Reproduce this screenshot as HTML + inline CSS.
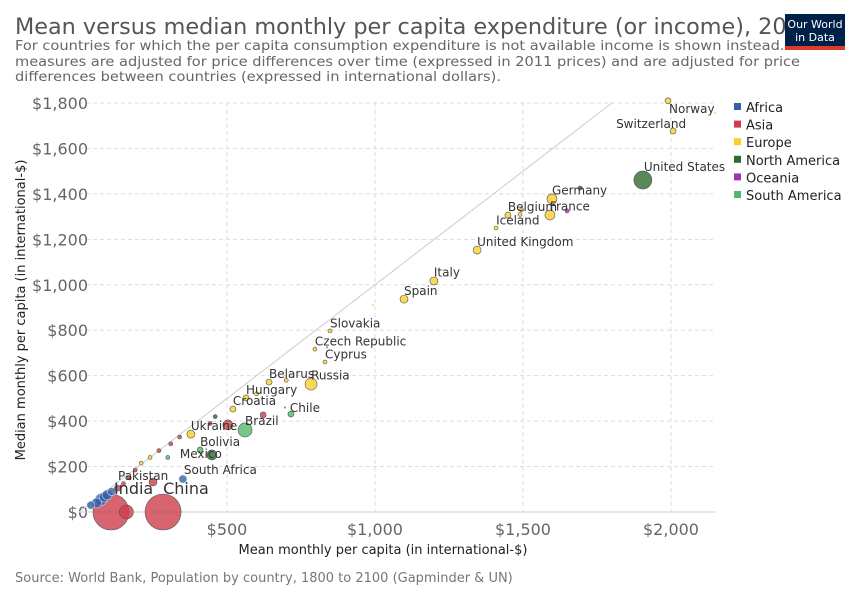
<!DOCTYPE html>
<html><head><meta charset="utf-8"><style>
body{margin:0;background:#fff;}
svg text{font-family:"DejaVu Sans","Liberation Sans",sans-serif;}
</style></head><body>
<svg id="chart" width="850" height="600" xmlns="http://www.w3.org/2000/svg">
<text x="15" y="34" font-size="22" fill="#555" textLength="800" lengthAdjust="spacingAndGlyphs">Mean versus median monthly per capita expenditure (or income), 2014</text>
<g font-size="13" fill="#666">
<text x="15" y="50" textLength="808" lengthAdjust="spacingAndGlyphs">For countries for which the per capita consumption expenditure is not available income is shown instead. Both</text>
<text x="15" y="66" textLength="785" lengthAdjust="spacingAndGlyphs">measures are adjusted for price differences over time (expressed in 2011 prices) and are adjusted for price</text>
<text x="15" y="81" textLength="486" lengthAdjust="spacingAndGlyphs">differences between countries (expressed in international dollars).</text>
</g>
<g>
<rect x="785" y="14" width="60" height="32" fill="#002147"/>
<rect x="785" y="46" width="60" height="4" fill="#dc3b2c"/>
<text x="815" y="28" font-size="11" fill="#fff" text-anchor="middle">Our World</text>
<text x="815" y="41" font-size="11" fill="#fff" text-anchor="middle">in Data</text>
</g>
<g id="grid"></g>
<g id="marks"></g>
<g id="labels"></g>
<g id="legend"></g>
<text x="383" y="554" font-size="13" fill="#222" text-anchor="middle">Mean monthly per capita (in international-$)</text>
<text transform="translate(25,310) rotate(-90)" font-size="13" fill="#222" text-anchor="middle">Median monthly per capita (in international-$)</text>
<text x="15" y="582" font-size="13" fill="#777">Source: World Bank, Population by country, 1800 to 2100 (Gapminder &amp; UN)</text>
</svg>
<script>
const xTicks=[500,1000,1500,2000];
const xTickLabels=["$500","$1,000","$1,500","$2,000"];
const yTicks=[0,200,400,600,800,1000,1200,1400,1600,1800];
const yTickLabels=["$0","$200","$400","$600","$800","$1,000","$1,200","$1,400","$1,600","$1,800"];
const continents=["Africa","Asia","Europe","North America","Oceania","South America"];
const continentColors=["#3360a9","#ce3d4b","#fccd2c","#2e6a31","#a335b0","#52b86b"];
const countries=["Norway","Switzerland","","United States","Germany","","France","","Belgium","","","Iceland","United Kingdom","Italy","Spain","","Slovakia","Czech Republic","","Cyprus","Russia","Belarus","","Hungary","Croatia","","Chile","","Brazil","","Ukraine","","","Bolivia","","Mexico","","South Africa","Pakistan","India","China","","","","","","","","","","","","","","","",""];
const meanVals=[1990,2007,2149,1905,1598,1693,1591,1649,1449,1490,1495,1409,1345,1199,1098,993,848,797,838,831,784,642,700,564,520,600,716,696,561,622,378,503,443,409,340,449,300,351,250,108,284,160,40,60,75,85,95,110,130,150,170,190,210,240,270,310,460];
const medianVals=[1810,1677,1756,1461,1378,1426,1307,1325,1307,1310,1330,1250,1153,1017,937,911,797,717,725,660,563,572,580,502,453,520,431,460,361,427,343,383,390,273,330,251,240,145,132,0,0,0,30,40,55,65,75,90,105,125,150,185,215,240,270,300,420];
const contIdx=[2,2,2,3,2,3,2,4,2,2,2,2,2,2,2,2,2,2,1,2,2,2,2,2,2,2,5,0,5,1,2,1,1,5,1,3,5,0,1,1,1,1,0,0,0,0,0,0,1,1,1,1,2,2,1,1,3];
const sizes=[3,3,1,9,5,2,5,2,3,2,2,2,4,4,4,1,2,2,1,2,6,3,2,3,3,2,3,1,7,3,4,5,2,3,2,5,2,4,4,18,18,7,4,5,6,5,5,4,3,2,2,2,2,2,2,2,2];
// label layout offsets (styling, not data)
const labelOffsets={"Norway":[1,12],"Switzerland":[-57,-3],"United States":[1,-9],"Pakistan":[-35,-2],"Mexico":[-32,3],"India":[3,-18],"China":[0,-18],"South Africa":[1,-5],"Chile":[-1,-2]};
const X=v=>79+v*0.296, Y=v=>512-v*0.2272;
const NS="http://www.w3.org/2000/svg";
function mk(p,t,a){const e=document.createElementNS(NS,t);for(const k in a)e.setAttribute(k,a[k]);p.appendChild(e);return e;}
const grid=document.getElementById('grid'),marks=document.getElementById('marks'),labels=document.getElementById('labels'),legend=document.getElementById('legend');
yTicks.forEach((v,i)=>{
 if(v>0){const l=mk(grid,'line',{x1:X(0),x2:X(2150),y1:Y(v),y2:Y(v),stroke:'#ddd','stroke-dasharray':'4,3'});
 
 }
 const t=mk(grid,'text',{x:88,y:Y(v)+6,'font-size':16,fill:'#666','text-anchor':'end'});t.textContent=yTickLabels[i];
 
 
});
xTicks.forEach((v,i)=>{
 const l=mk(grid,'line',{x1:X(v),x2:X(v),y1:Y(1800),y2:Y(0),stroke:'#ddd','stroke-dasharray':'4,3'});
 
 
 const t=mk(grid,'text',{x:X(v),y:535,'font-size':16,fill:'#666','text-anchor':'middle'});t.textContent=xTickLabels[i];
 
 
});
const ax=mk(grid,'line',{x1:X(0),x2:X(2150),y1:Y(0),y2:Y(0),stroke:'#ccc'});


const diag=mk(grid,'line',{x1:X(0),y1:Y(0),x2:X(1800),y2:Y(1800),stroke:'#ccc'});


const order=sizes.map((s,i)=>i).sort((a,b)=>sizes[b]-sizes[a]);
order.forEach(i=>{
 const c=mk(marks,'circle',{cx:X(meanVals[i]),cy:Y(medianVals[i]),r:sizes[i],fill:continentColors[contIdx[i]],'fill-opacity':0.8,stroke:sizes[i]>1?(contIdx[i]===0?'#cfd8ee':'#555'):'none','stroke-width':0.6});
 
 
});
countries.forEach((n,i)=>{
 if(!n)return;
 const big=n==='India'||n==='China';
 const off=labelOffsets[n]||[0,-3-sizes[i]*0.3];
 const t=mk(labels,'text',{x:X(meanVals[i])+off[0],y:Y(medianVals[i])+off[1],'font-size':big?16:12,fill:'#333'});
 t.textContent=n;
 
 
});
continents.forEach((n,i)=>{
 const g=mk(legend,'g',{});
 
 
 mk(g,'rect',{x:734,y:103+i*17.6,width:7,height:7,fill:continentColors[i]});
 const t=mk(g,'text',{x:746,y:112+i*17.6,'font-size':13,fill:'#222'});t.textContent=n;
});
</script>
</body></html>
